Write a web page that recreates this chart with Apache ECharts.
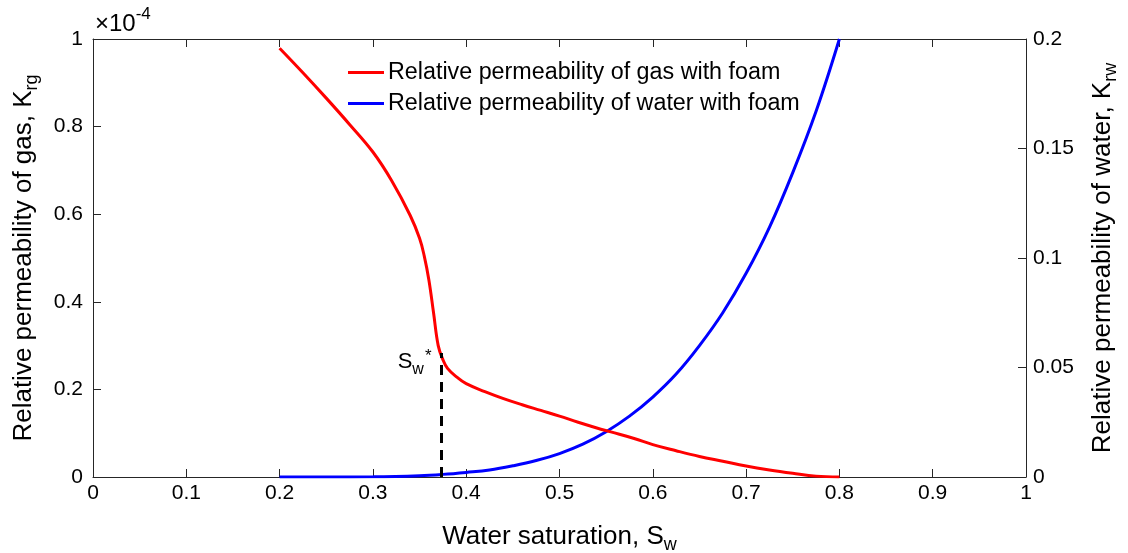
<!DOCTYPE html>
<html>
<head>
<meta charset="utf-8">
<script src="https://cdn.jsdelivr.net/npm/echarts@6/dist/echarts.min.js"></script>
<style>html,body{margin:0;padding:0;background:#fff}#c{width:1128px;height:553px}</style>
</head>
<body>
<div id="c"></div>
<script>
// Water saturation samples and read values
var gasSw = [0.20,0.225,0.25,0.275,0.30,0.32,0.34,0.35,0.355,0.36,0.365,0.37,0.375,0.38,0.39,0.40,0.42,0.44,0.46,0.48,0.50,0.52,0.54,0.555,0.58,0.60,0.625,0.65,0.675,0.70,0.725,0.75,0.775,0.80];
var gasKrg = [0.979,0.923,0.865,0.805,0.742,0.677,0.597,0.545,0.505,0.45,0.375,0.30,0.268,0.248,0.228,0.213,0.195,0.179,0.165,0.152,0.139,0.125,0.112,0.103,0.088,0.074,0.060,0.047,0.036,0.025,0.016,0.0085,0.002,0.0];
var waterSw = [0.20,0.25,0.30,0.35,0.375,0.40,0.425,0.45,0.475,0.50,0.525,0.55,0.575,0.60,0.625,0.65,0.675,0.70,0.725,0.75,0.775,0.80];
var waterKrw = [0,0.00001,0.0001,0.0006,0.0012,0.0021,0.0032,0.0051,0.0075,0.0107,0.0150,0.0207,0.0278,0.0365,0.047,0.060,0.075,0.093,0.114,0.139,0.167,0.2];
var swStar = 0.373, swStarKrg = 0.283;
var xTicks = {min:0, max:1, interval:0.1};
var leftTicks = {min:0, max:1, interval:0.2};
var rightTicks = {min:0, max:0.2, interval:0.05};
var gasName = 'Relative permeability of gas with foam';
var waterName = 'Relative permeability of water with foam';

function pairs(xs, ys){ return xs.map(function(x,i){return [x, ys[i]];}); }

var FONT = '"Liberation Sans", Arial, Helvetica, sans-serif';
var AX = '#262626';
var chart = echarts.init(document.getElementById('c'), null, {renderer:'canvas'});
var NS = 26;
var nameRich = {
  n: {fontSize: NS, fontFamily: FONT, color: '#000'},
  s: {fontSize: 18, fontFamily: FONT, color: '#000', padding: [16,0,0,0]}
};
function axLine(){ return {show: true, onZero: false, lineStyle: {color: AX, width: 1}}; }
function axTick(){ return {show: true, inside: true, length: 8, lineStyle: {color: AX}}; }
chart.setOption({
  animation: false,
  backgroundColor: '#fff',
  textStyle: {fontFamily: FONT},
  grid: {left: 93, right: 102, top: 39, bottom: 76, containLabel: false, outerBoundsMode: 'none'},
  legend: {
    orient: 'vertical', left: 343, top: 56, itemGap: 8,
    icon: 'rect', itemWidth: 36, itemHeight: 3,
    textStyle: {fontSize: 23.3, color: '#000', fontFamily: FONT, padding: [0,0,0,-1]},
    data: [gasName, waterName]
  },
  xAxis: [{
    type: 'value', min: xTicks.min, max: xTicks.max, interval: xTicks.interval,
    position: 'bottom',
    axisLine: axLine(), axisTick: axTick(),
    axisLabel: {fontSize: 21, color: '#000', margin: 6, fontFamily: FONT},
    splitLine: {show: false},
    name: '{n|Water saturation, S}{s|w}', nameLocation: 'middle', nameGap: 43,
    nameTextStyle: {fontSize: NS, rich: nameRich}
  },{
    type: 'value', min: xTicks.min, max: xTicks.max, interval: xTicks.interval,
    position: 'top',
    axisLine: axLine(), axisTick: axTick(),
    axisLabel: {show: false}, splitLine: {show: false}
  }],
  yAxis: [{
    type: 'value', min: leftTicks.min, max: leftTicks.max, interval: leftTicks.interval,
    position: 'left',
    axisLine: axLine(), axisTick: axTick(),
    axisLabel: {fontSize: 21, color: '#000', margin: 10, fontFamily: FONT},
    splitLine: {show: false},
    name: '{n|Relative permeability of gas, K}{s|rg}', nameLocation: 'middle', nameGap: 52, nameRotate: 90,
    nameTextStyle: {fontSize: NS, rich: nameRich}
  },{
    type: 'value', min: rightTicks.min, max: rightTicks.max, interval: rightTicks.interval,
    position: 'right',
    axisLine: axLine(), axisTick: axTick(),
    axisLabel: {fontSize: 21, color: '#000', margin: 7, fontFamily: FONT},
    splitLine: {show: false},
    name: '{n|Relative permeability of water, K}{s|rw}', nameLocation: 'middle', nameGap: 60, nameRotate: 90,
    nameTextStyle: {fontSize: NS, rich: nameRich}
  }],
  graphic: [{
    type: 'text', left: 95, top: 6,
    style: {
      text: '{a|×10}{b|-4}',
      rich: {
        a: {fontSize: 24, fontFamily: FONT, fill: '#000', padding: [7,0,0,0]},
        b: {fontSize: 17, fontFamily: FONT, fill: '#000', padding: [0,0,12,0]}
      }
    }
  }],
  series: [{
    name: gasName, type: 'line', xAxisIndex: 0, yAxisIndex: 0,
    data: pairs(gasSw, gasKrg), smooth: 0.4, showSymbol: false, symbol: 'none',
    lineStyle: {color: '#ff0000', width: 3}, itemStyle: {color: '#ff0000'},
    markLine: {
      silent: true, symbol: 'none',
      lineStyle: {color: '#000', type: [10,7], width: 3},
      label: {show: false},
      data: [[{coord: [swStar, 0]}, {coord: [swStar, swStarKrg]}]]
    },
    markPoint: {
      silent: true, symbol: 'circle', symbolSize: 1,
      itemStyle: {color: 'rgba(0,0,0,0)'},
      label: {
        show: true, position: 'left', distance: 9,
        formatter: '{S|S}{w|w}{st|*}',
        rich: {
          S: {fontSize: 22, fontFamily: FONT, color: '#000'},
          w: {fontSize: 16, fontFamily: FONT, color: '#000', padding: [15,0,0,0]},
          st: {fontSize: 17, fontFamily: FONT, color: '#000', padding: [0,0,10,1]}
        }
      },
      data: [{coord: [swStar, swStarKrg - 0.02]}]
    },
    z: 3
  },{
    name: waterName, type: 'line', xAxisIndex: 0, yAxisIndex: 1,
    data: pairs(waterSw, waterKrw), smooth: 0.4, showSymbol: false, symbol: 'none',
    lineStyle: {color: '#0000ff', width: 3}, itemStyle: {color: '#0000ff'},
    z: 2
  }]
});
</script>
</body>
</html>
